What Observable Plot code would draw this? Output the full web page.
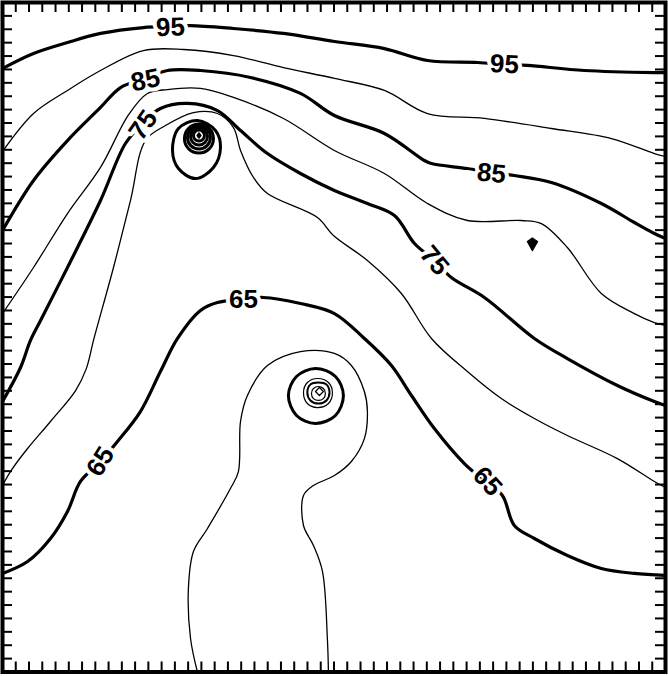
<!DOCTYPE html>
<html>
<head>
<meta charset="utf-8">
<script src="https://cdn.jsdelivr.net/npm/d3@7"></script>
<script src="https://cdn.jsdelivr.net/npm/@observablehq/plot@0.6"></script>
<style>
  html, body { margin: 0; padding: 0; background: #fff; }
  #chart svg { display: block; }
</style>
</head>
<body>
<div id="chart"></div>
<script>
// Grid extent (both axes 0..50, one tick per unit)
const gridTicks = d3.range(1, 50);

// Open contour lines, [x, y] in grid units
const c95 = [[0,45.07],[2.34,46.19],[4.9,47.01],[7.39,47.69],[10.63,48.13],[12.67,48.21],[14.18,48.28],[17.42,48.06],[21.19,47.69],[25.03,47.09],[28.8,46.56],[32.05,45.67],[35.82,45.52],[37.93,45.37],[39.59,45.3],[43.88,44.92],[49.16,44.77],[50,44.77]];
const c90 = [[0,38.87],[2.34,41.71],[4.9,43.43],[7.39,44.92],[10.63,46.41],[13.65,46.49],[17.42,46.04],[21.19,45.14],[25.03,44.33],[28.8,43.43],[32.05,41.71],[36.34,41.34],[41.39,40.59],[45.92,39.84],[49.16,38.72],[50,38.5]];
const c85 = [[0,32.97],[2.34,36.71],[4.9,39.69],[7.39,42.16],[8.9,43.65],[10.78,44.33],[12.44,44.92],[14.93,44.92],[18.7,44.4],[22.47,43.21],[25.03,41.56],[28.8,40.22],[31.82,38.2],[32.35,37.97],[35.06,37.6],[36.87,37.3],[38.6,37.08],[41.39,36.56],[45.16,34.99],[47.65,33.57],[49.16,32.75],[50,32.37]];
const c80 = [[0,26.77],[2.34,30.21],[4.9,34.24],[7.39,37.68],[9.5,41.6],[10.93,43.2],[12.44,43.5],[14.93,43.58],[17.42,42.91],[21.19,41.34],[25.03,38.95],[28.8,37.23],[32.05,34.99],[35.06,33.72],[39.13,33.72],[40.64,33.49],[42.6,31.7],[45.16,28.27],[47.65,26.77],[49.16,26.1],[50,25.88]];
const c75 = [[0,20.2],[1.36,22.74],[2.11,24.76],[2.87,26.25],[4.9,30.21],[7.39,35.21],[9.27,39.47],[10.56,40.96],[11.91,42.08],[13.95,42.46],[16.21,41.93],[17.95,40.44],[19.98,38.72],[22.47,37.23],[25.03,35.96],[27.52,34.99],[29.56,34.09],[31.07,32.0],[32.57,30.73],[33.85,29.46],[36.34,27.97],[40.11,24.91],[42.6,23.41],[46.37,21.4],[49.16,20.2],[50,19.9]];
const c70 = [[0,13.93],[0.6,14.97],[1.89,16.69],[3.62,18.71],[5.5,21.0],[6.3,22.6],[6.9,24.91],[8.37,30.21],[9.65,35.21],[10.78,39.69],[12.29,40.81],[14.4,41.78],[16.21,41.71],[17.42,40.66],[17.95,38.95],[18.93,36.93],[19.98,35.73],[23.75,33.94],[24.96,32.6],[27.52,30.73],[30.08,28.27],[32.35,24.91],[35.06,22.44],[37.62,20.42],[40.11,18.93],[42.6,17.66],[46.37,15.94],[49.16,14.23],[50,13.78]];
const c65 = [[0,7.36],[1.89,8.25],[3.62,9.97],[4.9,11.99],[5.88,14.23],[7.39,15.72],[8.67,17.21],[10.4,19.45],[11.91,22.44],[13.2,24.91],[14.93,27.0],[16.21,27.59],[18.17,27.82],[19.68,27.97],[22.47,27.52],[25.03,26.77],[27.29,24.91],[29.33,22.89],[30.84,20.65],[32.57,18.18],[34.83,15.57],[36.42,14.23],[37.7,13.18],[38.6,10.94],[40.11,9.97],[42.6,8.7],[45.16,7.73],[47.65,7.36],[50,7.21]];
const c60 = [[14.7,0],[14.18,2.5],[14.02,6.24],[14.4,9.0],[15.46,10.72],[17.19,13.7],[17.79,14.97],[17.95,18.71],[18.47,20.65],[19.98,22.89],[22.47,23.93],[25.03,23.79],[26.31,22.89],[27.29,20.95],[27.52,19.45],[27.29,17.43],[26.31,15.72],[25.03,14.67],[23.45,13.93],[22.7,13.18],[22.7,10.94],[23.45,9.45],[24.13,7.51],[24.5,2.5],[24.58,0]];

// Closed contours around the lower centre
const r55 = [[21.56,20.65],[22.17,22.07],[23.6,22.67],[25.11,22.07],[25.71,20.65],[25.11,19.16],[23.6,18.56],[22.17,19.16]];
const r50 = [[22.7,20.87],[22.99,21.62],[23.75,21.92],[24.58,21.62],[24.88,20.87],[24.58,20.05],[23.75,19.75],[22.99,20.05]];
const r45 = [[22.99,20.87],[23.22,21.47],[23.83,21.62],[24.43,21.47],[24.66,20.87],[24.43,20.28],[23.83,20.05],[23.22,20.28]];
const r40 = [[23.3,20.8],[23.45,21.17],[23.83,21.32],[24.2,21.17],[24.35,20.8],[24.2,20.42],[23.83,20.28],[23.45,20.42]];
const r35 = [[23.9,21.25],[24.2,20.95],[23.9,20.65],[23.6,20.95]];

// Closed contours around the upper centre
const u65 = [[12.82,38.95],[13.27,40.59],[14.7,41.19],[16.06,40.44],[16.44,39.17],[15.91,37.68],[14.55,36.85],[13.27,37.6]];
const u60 = [[13.72,39.84],[14.04,40.61],[14.82,40.92],[15.59,40.61],[15.91,39.84],[15.59,39.07],[14.82,38.76],[14.04,39.07]];
const u55 = [[13.95,39.92],[14.2,40.52],[14.82,40.78],[15.43,40.52],[15.68,39.92],[15.43,39.31],[14.82,39.06],[14.2,39.31]];
const u50 = [[14.18,39.99],[14.36,40.44],[14.82,40.63],[15.27,40.44],[15.46,39.99],[15.27,39.54],[14.82,39.35],[14.36,39.54]];
const u45 = [[14.4,40.07],[14.52,40.36],[14.82,40.48],[15.11,40.36],[15.23,40.07],[15.11,39.77],[14.82,39.65],[14.52,39.77]];
const u40 = [[14.82,40.26],[14.96,40.07],[14.82,39.88],[14.68,40.07]];

// Small isolated closed contour on the right
const spot = [[39.59,32.15],[39.96,32.4],[40.34,32.15],[39.96,31.48]];

// Contour labels
const labelText  = ["95", "95", "85", "85", "75", "75", "65", "65", "65"];
const labelX     = [12.67, 37.85, 10.78, 36.87, 10.62, 32.57, 18.17, 7.39, 36.57];
const labelY     = [48.13, 45.37, 44.18, 37.23, 40.85, 30.73, 27.82, 15.72, 14.23];
const labelAngle = [-2, 3, -12, 6, -55, 50, 0, -58, 48];

// ---- build tables ----
const openLines = [
  {id: "c95", major: true, pts: c95}, {id: "c90", major: false, pts: c90},
  {id: "c85", major: true, pts: c85}, {id: "c80", major: false, pts: c80},
  {id: "c75", major: true, pts: c75}, {id: "c70", major: false, pts: c70},
  {id: "c65", major: true, pts: c65}, {id: "c60", major: false, pts: c60}
];
const rings = [
  {id: "r55", w: 3.0, pts: r55}, {id: "r50", w: 1.2, pts: r50},
  {id: "r45", w: 2.0, pts: r45}, {id: "r40", w: 1.2, pts: r40},
  {id: "u65", w: 3.0, pts: u65}, {id: "u60", w: 3.0, pts: u60},
  {id: "u55", w: 3.0, pts: u55}, {id: "u50", w: 3.0, pts: u50},
  {id: "u45", w: 3.0, pts: u45}
];
const blobs = [
  {id: "r35", fill: "none", w: 1.2, pts: r35},
  {id: "u40", fill: "black", w: 1.5, pts: u40},
  {id: "spot", fill: "black", w: 1.5, pts: spot}
];
const flat = (arr) => arr.flatMap(c => c.pts.map(([x, y]) => ({...c, x, y})));
const lineRows = flat(openLines);
const labels = labelText.map((t, i) => ({t, x: labelX[i], y: labelY[i], a: labelAngle[i]}));

const W = 668, H = 676;
const mL = 2, mR = 3, mT = 2, mB = 4.5;
const plotW = W - mL - mR, plotH = H - mT - mB;
const tickLen = 10;

const marks = [
  Plot.line(lineRows.filter(d => !d.major), {x: "x", y: "y", z: "id", curve: "catmull-rom", stroke: "black", strokeWidth: 1.3, clip: true}),
  Plot.line(lineRows.filter(d => d.major), {x: "x", y: "y", z: "id", curve: "catmull-rom", stroke: "black", strokeWidth: 3.2, strokeLinejoin: "round", clip: true})
];
for (const r of rings) {
  marks.push(Plot.line(r.pts, {x: d => d[0], y: d => d[1], curve: "catmull-rom-closed", stroke: "black", strokeWidth: r.w}));
}
for (const b of blobs) {
  marks.push(Plot.line(b.pts, {x: d => d[0], y: d => d[1], curve: "linear-closed", stroke: "black", fill: b.fill, strokeWidth: b.w, strokeLinejoin: "round"}));
}
marks.push(
  Plot.text(labels, {x: "x", y: "y", text: "t", rotate: "a", fontSize: 26, fontWeight: "bold",
    fontFamily: "Liberation Sans, Arial, sans-serif", fill: "black", stroke: "white", strokeWidth: 8,
    paintOrder: "stroke", textAnchor: "middle", lineAnchor: "middle"}),
  Plot.tickX(gridTicks, {x: d => d, insetBottom: plotH - tickLen, stroke: "black", strokeWidth: 2}),
  Plot.tickX(gridTicks, {x: d => d, insetTop: plotH - tickLen, stroke: "black", strokeWidth: 2}),
  Plot.tickY(gridTicks, {y: d => d, insetRight: plotW - tickLen, stroke: "black", strokeWidth: 2}),
  Plot.tickY(gridTicks, {y: d => d, insetLeft: plotW - tickLen, stroke: "black", strokeWidth: 2}),
  Plot.frame({stroke: "black", strokeWidth: 4})
);

const chart = Plot.plot({
  width: W, height: H,
  marginLeft: mL, marginRight: mR, marginTop: mT, marginBottom: mB,
  x: {domain: [0, 50], axis: null},
  y: {domain: [0, 50], axis: null},
  style: {background: "white"},
  marks
});
document.getElementById("chart").appendChild(chart);
</script>
</body>
</html>
